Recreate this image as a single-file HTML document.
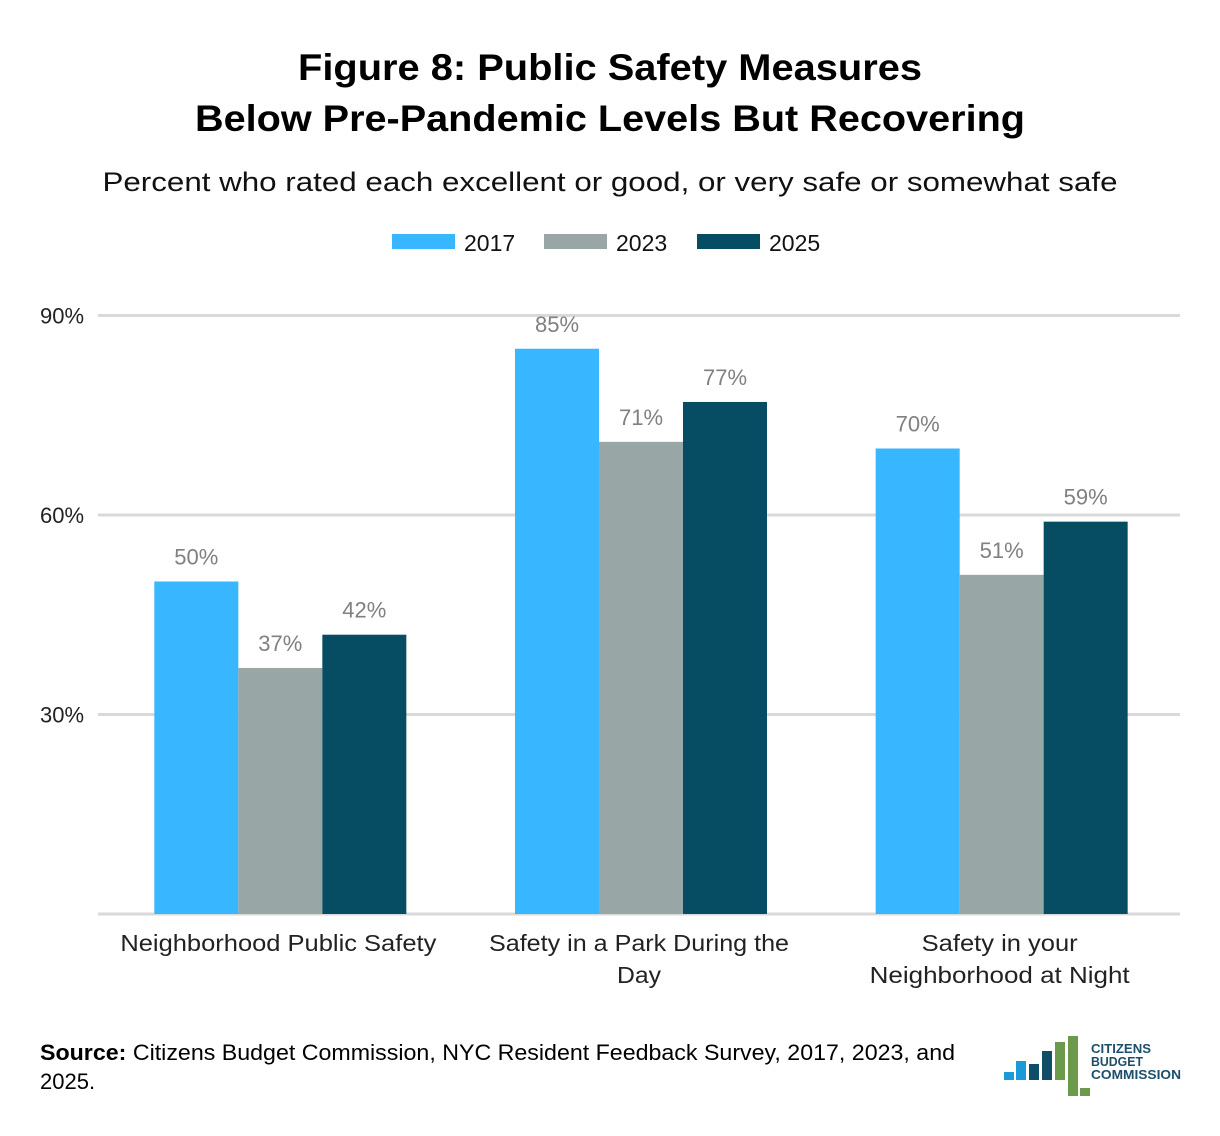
<!DOCTYPE html>
<html><head><meta charset="utf-8"><style>
body{margin:0;background:#fff;}
svg{display:block;font-family:"Liberation Sans",sans-serif;}
</style></head><body>
<svg width="1220" height="1136" viewBox="0 0 1220 1136">
<text x="610" y="80" text-anchor="middle" font-size="37" font-weight="bold" fill="#000" textLength="624" lengthAdjust="spacingAndGlyphs">Figure 8: Public Safety Measures</text>
<text x="610" y="131" text-anchor="middle" font-size="37" font-weight="bold" fill="#000" textLength="830" lengthAdjust="spacingAndGlyphs">Below Pre-Pandemic Levels But Recovering</text>
<text x="610" y="191" text-anchor="middle" font-size="27" fill="#111" textLength="1015" lengthAdjust="spacingAndGlyphs">Percent who rated each excellent or good, or very safe or somewhat safe</text>
<g id="legend"></g>
<g id="grid"></g>
<g id="bars"></g>
<g id="xlabels"></g>
<text x="40" y="1060" font-size="22" fill="#000" textLength="915" lengthAdjust="spacingAndGlyphs"><tspan font-weight="bold">Source:</tspan> Citizens Budget Commission, NYC Resident Feedback Survey, 2017, 2023, and</text>
<text x="40" y="1089" font-size="22" fill="#000">2025.</text>
<g>
<rect x="1004" y="1072" width="10" height="8" fill="#1a9bd7"/>
<rect x="1016" y="1061" width="10" height="19" fill="#1a9bd7"/>
<rect x="1029" y="1064" width="10" height="16" fill="#0f4e66"/>
<rect x="1042" y="1051" width="10" height="29" fill="#0f4e66"/>
<rect x="1055" y="1042" width="10" height="38" fill="#6b9a4a"/>
<rect x="1068" y="1036" width="10" height="60" fill="#6b9a4a"/>
<rect x="1080" y="1088" width="10" height="8" fill="#6b9a4a"/>
<text x="1091" y="1053" font-size="12.5" font-weight="bold" fill="#1d4e6b" textLength="60" lengthAdjust="spacingAndGlyphs">CITIZENS</text>
<text x="1091" y="1066" font-size="12.5" font-weight="bold" fill="#1d4e6b" textLength="52" lengthAdjust="spacingAndGlyphs">BUDGET</text>
<text x="1091" y="1079" font-size="12.5" font-weight="bold" fill="#1d4e6b" textLength="90" lengthAdjust="spacingAndGlyphs">COMMISSION</text>
</g>
</svg>
<script>
const categories=[["Neighborhood Public Safety"],["Safety in a Park During the","Day"],["Safety in your","Neighborhood at Night"]];
const seriesNames=["2017","2023","2025"];
const v2017=[50,85,70];
const v2023=[37,71,51];
const v2025=[42,77,59];
const yTicks=[30,60,90];
const yTickLabels=["30%","60%","90%"];
const colors=["#38b6ff","#98a6a5","#064c63"];
const labelWidths=[[316],[300,44],[156,260]];
const NS="http://www.w3.org/2000/svg";
const plotL=100,plotR=1182,y0=914,pxPer=199.5/30;
const y=v=>y0-v*pxPer;
const groupW=(plotR-plotL)/categories.length,barW=84;
const gx=i=>plotL+groupW*(i+0.5);
function mk(tag,attrs,parent){const e=document.createElementNS(NS,tag);for(const k in attrs)e.setAttribute(k,attrs[k]);parent.appendChild(e);return e;}
const grid=document.getElementById('grid');
yTicks.forEach((t,i)=>{
 const l=mk('line',{x1:98,x2:1180,y1:y(t),y2:y(t),stroke:'#d9d9d9','stroke-width':3},grid);
 
 
 const tx=mk('text',{x:40,y:y(t)+8,'font-size':22,fill:'#222'},grid);
 tx.textContent=yTickLabels[i];
 
 
});
const ax=mk('line',{x1:98,x2:1180,y1:y0,y2:y0,stroke:'#d9d9d9','stroke-width':3},grid);


const bars=document.getElementById('bars');
const all=[v2017,v2023,v2025];
categories.forEach((c,i)=>{
 all.forEach((s,j)=>{
  const x=gx(i)+(j-1.5)*barW;
  const r=mk('rect',{x:x,y:y(s[i]),width:barW,height:y0-y(s[i]),fill:colors[j]},bars);
  
  
  const t=mk('text',{x:x+barW/2,y:y(s[i])-17,'text-anchor':'middle','font-size':22,fill:'#808080'},bars);
  t.textContent=s[i]+'%';
  
  
 });
 const xl=document.getElementById('xlabels');
 c.forEach((line,k)=>{
  const t=mk('text',{x:gx(i)-2,y:951+k*32,'text-anchor':'middle','font-size':23,fill:'#222',textLength:labelWidths[i][k],lengthAdjust:'spacingAndGlyphs'},xl);
  t.textContent=line;
  
  
 });
});
const lg=document.getElementById('legend');
const lx=[392,544,697];
seriesNames.forEach((n,j)=>{
 const r=mk('rect',{x:lx[j],y:234,width:63,height:15,fill:colors[j]},lg);
 
 
 const t=mk('text',{x:lx[j]+72,y:251,'font-size':23,fill:'#111'},lg);
 t.textContent=n;
 
 
});
</script>
</body></html>
